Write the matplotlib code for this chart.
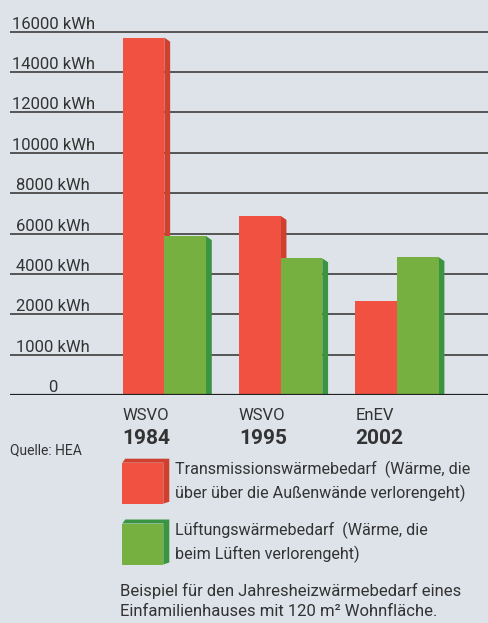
import numpy as np
import matplotlib
matplotlib.use('Agg')
import matplotlib.pyplot as plt
from matplotlib.patches import Polygon, Rectangle

plt.rcParams['font.family'] = ['Roboto', 'DejaVu Sans']

# data
groups = ['WSVO', 'WSVO', 'EnEV']
years = ['1984', '1995', '2002']
transmission = [15700, 6880, 2660]   # kWh
ventilation = [5880, 4780, 4840]     # kWh

tick_values = [0, 1000, 2000, 4000, 6000, 8000, 10000, 12000, 14000, 16000]
tick_labels = ['0', '1000 kWh', '2000 kWh', '4000 kWh', '6000 kWh', '8000 kWh',
               '10000 kWh', '12000 kWh', '14000 kWh', '16000 kWh']

legend_texts = ['Transmissionswärmebedarf  (Wärme, die\nüber über die Außenwände verlorengeht)',
                'Lüftungswärmebedarf  (Wärme, die\nbeim Lüften verlorengeht)']
note = 'Beispiel für den Jahresheizwärmebedarf eines\nEinfamilienhauses mit 120 m² Wohnfläche.'
source = 'Quelle: HEA'

bg = '#dde3e9'
red, red_dark = '#f05141', '#cf412e'
green, green_dark = '#76b041', '#3a9442'
txt = '#333333'

# the original axis is evenly spaced between irregular tick values
pos = np.arange(len(tick_values))
def fwd(v):
    v = np.asarray(v, dtype=float)
    return np.where(v > tick_values[-1], pos[-1] + (v - tick_values[-1]) / 2000.0,
                    np.interp(v, tick_values, pos))
def inv(p):
    p = np.asarray(p, dtype=float)
    return np.where(p > pos[-1], tick_values[-1] + (p - pos[-1]) * 2000.0,
                    np.interp(p, pos, tick_values))

W, H = 488, 623
fig = plt.figure(figsize=(W / 100, H / 100), dpi=100, facecolor=bg)
ax = fig.add_axes([10 / W, (H - 395.3) / H, 1 - 10 / W, 395.3 / H])
ax.set_facecolor(bg)
ax.set_yscale('function', functions=(fwd, inv))

x = np.arange(len(years))
w = 0.358
ax.set_xlim(-1.327, 2.783)
ax.set_ylim(0, float(inv(9.78)))

ax.set_yticks(tick_values)
ax.yaxis.grid(True, color='#4a4a4a', linewidth=1.3)
ax.set_axisbelow(True)
ax.tick_params(left=False, bottom=False, labelleft=False, labelbottom=False)
ax.set_xticks([])
for s in ax.spines.values():
    s.set_visible(False)
ax.axhline(0, color='#222222', linewidth=1.6, zorder=5)

side = 0.05   # width of 3D side in x units
drop = 0.1    # drop of 3D side top in position units

def bar3d(xl, v, face, dark, z):
    top = float(fwd(v))
    poly = Polygon([(xl + w, v), (xl + w + side, float(inv(top - drop))),
                    (xl + w + side, 0), (xl + w, 0)],
                   closed=True, facecolor=dark, edgecolor='none', zorder=z)
    ax.add_patch(poly)
    ax.bar(xl, v, width=w, align='edge', color=face, zorder=z + 0.5)

for i in range(len(years)):
    bar3d(x[i] - w, transmission[i], red, red_dark, 2)
    bar3d(x[i], ventilation[i], green, green_dark, 3)

for v, lab in zip(tick_values, tick_labels):
    ax.text(44 / W, v, lab, transform=ax.get_yaxis_transform(), ha='center',
            va='bottom', fontsize=12, color=txt)

# category labels below the axis
for i in range(len(years)):
    xl = x[i] - w
    ax.annotate(groups[i], (xl, 0), xytext=(0, -20), textcoords='offset pixels',
                ha='left', va='center', fontsize=12, color=txt, annotation_clip=False)
    ax.annotate(years[i], (xl, 0), xytext=(0, -43), textcoords='offset pixels',
                ha='left', va='center', fontsize=15, fontweight='bold', color=txt,
                annotation_clip=False)

def fx(px):
    return px / W
def fy(py):
    return 1 - py / H

fig.text(fx(10), fy(450), source, fontsize=10, color=txt, va='center', ha='left')

# legend with 3D boxes
for (face, dark), ty, label in zip([(red, red_dark), (green, green_dark)],
                                   [462.7, 523.5], legend_texts):
    x0, x1 = fx(122.3), fx(163.3)
    y0, y1 = fy(ty + 41), fy(ty)
    fig.patches.append(Polygon([(x0, y1), (x0 + fx(3), y1 + 4 / H), (x1 + fx(6), y1 + 4 / H),
                                (x1 + fx(6), y0 + 2 / H), (x1, y0), (x1, y1)],
                               closed=True, transform=fig.transFigure,
                               facecolor=dark, edgecolor='none'))
    fig.patches.append(Rectangle((x0, y0), x1 - x0, y1 - y0, transform=fig.transFigure,
                                 facecolor=face, edgecolor='none'))
    fig.text(fx(175), fy(ty + 19), label, fontsize=11.6, color=txt, va='center',
             ha='left', linespacing=1.5)

fig.text(fx(120), fy(601), note, fontsize=12, color=txt, va='center', ha='left',
         linespacing=1.45)

fig.savefig('out.png', dpi=100, facecolor=bg)
